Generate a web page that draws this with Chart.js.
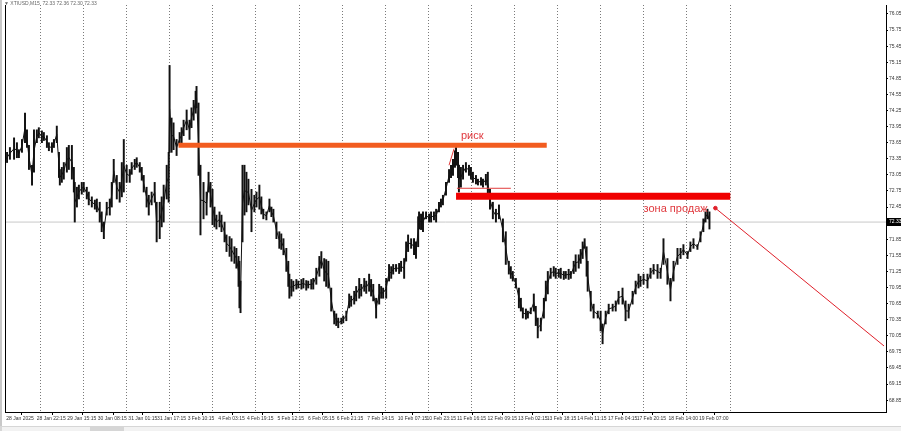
<!DOCTYPE html>
<html>
<head>
<meta charset="utf-8">
<script src="https://cdn.jsdelivr.net/npm/chart.js@4.4.1/dist/chart.umd.min.js"></script>
<style>
  html, body { margin: 0; padding: 0; background: #fff; }
  #wrap { width: 901px; height: 431px; position: relative; }
</style>
</head>
<body>
<div id="wrap"><canvas id="priceChart"></canvas></div>
<script>
// trading hours counted from 28 Jan 00:00 (weekends skipped)
const hours = [
  4.6,5.7,7.3,9.6,11.2,12.3,14.0,15.7,16.8,17.9,
  19.6,20.7,22.3,23.4,25.1,26.2,27.9,29.0,30.7,31.8,
  33.4,34.6,35.1,36.2,37.3,39.0,40.1,41.8,42.9,43.4,
  44.6,45.7,47.3,48.4,50.1,51.2,52.9,54.6,55.7,57.3,
  58.4,59.6,61.2,62.9,64.0,65.1,66.8,68.4,69.6,70.7,
  72.3,74.0,75.1,76.8,77.9,79.6,80.7,81.8,83.4,84.6,
  86.2,87.9,89.0,90.7,91.8,92.9,94.6,95.7,96.2,97.3,
  98.4,100.1,101.8,102.9,104.0,105.7,107.3,108.4,109.6,110.7,
  111.2,112.3,113.4,115.1,116.8,117.9,119.0,120.1,121.2,122.3,
  124.0,125.1,126.8,127.9,129.6,130.7,132.3,133.4,134.6,135.1,
  135.7,136.8,137.9,139.0,140.1,141.8,143.4,144.6,146.2,147.3,
  148.4,150.1,151.8,152.9,154.0,155.7,157.3,158.4,159.6,161.2,
  162.3,162.9,164.0,165.1,166.8,167.9,169.6,170.7,172.3,173.4,
  175.1,176.2,177.9,179.6,180.7,182.3,183.4,184.6,186.2,187.9,
  189.0,190.1,191.8,192.9,194.6,196.2,197.3,199.0,200.1,201.8,
  202.9,204.6,205.7,207.3,208.4,209.6,211.2,212.9,214.0,215.1,
  216.8,218.4,219.6,220.7,222.3,224.0,225.1,226.8,227.9,229.0,
  230.7,232.3,233.4,234.6,235.1,236.2,237.3,239.0,240.7,241.8,
  243.4,244.6,246.2,247.3,248.4,250.1,251.8,252.9,254.0,255.1,
  255.7,256.8,257.3,258.4,259.6,261.2,262.9,264.0,265.1,266.8,
  267.9,269.6,270.7,272.3,273.4,274.6,276.2,277.9,279.6,281.8,
  283.4,285.1,286.2,287.3,289.0,290.7,291.8,292.9,294.6,295.7,
  297.3,299.0,300.1,301.2,302.9,304.6,305.7,306.8,308.4,310.1,
  311.2,312.9,314.0,315.7,316.8,318.4,319.6,321.2,322.3,324.0,
  325.1,326.2,327.3,328.4,329.0,330.7,332.3,334.6,336.2,337.3,
  339.0,340.7,342.9,344.6,346.2,348.4,350.1,351.8,354.0,355.7,
  357.3,358.4,360.1,362.3,364.0,365.7,367.9,369.6,371.2,373.4,
  375.1,376.8,379.0,380.7,382.3,384.6,386.2,387.9,390.1,391.8,
  393.4,394.6,395.7,396.8
];

const highs = [
  73.43,73.47,73.56,73.74,73.65,73.52,73.71,74.20,73.89,73.60,
  73.23,73.89,73.89,73.93,73.87,73.84,73.78,73.65,73.65,73.71,
  73.96,73.47,73.15,73.19,73.28,73.56,73.60,73.60,73.19,72.91,
  72.82,72.86,72.91,72.91,72.82,72.73,72.64,72.58,72.60,72.54,
  72.36,72.17,72.54,72.60,72.91,73.34,73.04,72.91,73.28,73.71,
  73.23,73.15,73.28,73.34,73.37,73.28,73.19,73.04,72.82,72.67,
  72.73,72.91,72.54,72.54,72.64,72.86,73.23,73.47,75.09,74.11,
  74.02,73.71,73.84,73.93,74.07,74.26,74.07,74.30,74.44,74.61,
  74.70,74.39,73.23,72.91,72.73,73.10,72.91,72.78,72.45,72.30,
  72.36,72.30,72.17,71.93,71.90,71.86,71.71,71.68,71.53,71.44,
  71.07,73.23,73.23,73.10,72.97,72.78,72.67,72.73,72.86,72.64,
  72.41,72.36,72.60,72.45,72.41,72.17,71.99,71.95,71.86,71.68,
  71.44,71.20,71.10,71.07,71.10,71.07,71.10,71.12,71.08,71.07,
  71.10,71.12,71.31,71.53,71.62,71.49,71.47,71.44,70.94,70.51,
  70.46,70.38,70.38,70.42,70.51,70.83,70.79,70.88,70.97,71.12,
  71.01,71.12,71.07,71.20,71.10,71.01,70.75,71.01,70.97,70.94,
  71.12,71.38,71.34,71.38,71.38,71.40,71.44,71.49,71.80,71.93,
  71.86,71.86,71.80,72.27,72.36,72.32,72.36,72.36,72.32,72.36,
  72.36,72.41,72.54,72.60,72.67,72.91,73.15,73.23,73.34,73.50,
  73.56,73.47,73.23,73.19,73.23,73.28,73.23,73.19,73.10,73.04,
  72.97,73.00,72.97,73.06,73.10,72.78,72.54,72.41,72.49,72.23,
  71.99,71.44,71.34,71.25,71.12,70.94,70.75,70.57,70.55,70.51,
  70.57,70.83,70.60,70.38,70.38,70.75,71.07,71.25,71.31,71.34,
  71.31,71.29,71.31,71.25,71.25,71.29,71.25,71.44,71.56,71.56,
  71.66,71.80,71.86,71.71,71.44,70.88,70.64,70.51,70.51,70.27,
  70.51,70.64,70.64,70.70,70.88,70.94,70.70,70.64,70.88,71.07,
  71.20,71.16,71.20,71.20,71.31,71.38,71.38,71.31,71.86,71.49,
  71.12,71.44,71.68,71.68,71.75,71.62,71.80,71.86,71.75,71.99,
  72.23,72.36,72.41,72.36
];

const lows = [
  73.23,73.28,73.34,73.34,73.37,73.37,73.47,73.65,73.56,73.15,
  72.86,73.10,73.65,73.74,73.65,73.69,73.56,73.50,73.47,73.56,
  73.65,73.00,72.86,72.91,72.97,73.10,73.15,72.97,72.73,72.17,
  72.45,72.60,72.69,72.73,72.60,72.49,72.45,72.41,72.36,72.17,
  71.99,71.86,72.30,72.30,72.45,72.91,72.60,72.54,72.64,72.73,
  72.91,72.91,73.06,73.15,73.19,73.10,72.95,72.73,72.45,72.30,
  72.49,72.54,71.80,71.86,72.08,72.17,72.60,72.54,73.47,73.47,
  73.52,73.41,73.60,73.65,73.78,73.89,73.71,73.93,74.07,74.20,
  74.30,73.04,71.93,72.23,72.30,72.73,72.45,72.12,72.08,72.04,
  72.08,71.99,71.80,71.62,71.53,71.44,71.40,71.31,70.97,70.57,
  70.48,71.80,72.30,72.36,72.49,71.99,72.36,72.45,72.41,72.32,
  72.23,72.21,72.36,72.27,72.17,71.86,71.68,71.66,71.56,71.25,
  70.97,70.75,70.79,70.88,70.92,70.94,70.92,70.94,70.90,70.94,
  70.92,70.92,71.01,71.16,71.31,71.07,70.97,70.94,70.51,70.27,
  70.24,70.20,70.27,70.29,70.33,70.57,70.60,70.64,70.70,70.75,
  70.79,70.88,70.84,70.88,70.79,70.70,70.38,70.64,70.75,70.75,
  70.75,71.07,71.12,71.20,71.25,71.21,71.25,71.12,71.44,71.62,
  71.68,71.56,71.49,71.71,72.04,72.03,71.99,72.23,72.17,72.17,
  72.21,72.17,72.36,72.45,72.49,72.67,72.91,73.00,73.04,73.19,
  73.23,73.00,72.73,72.82,72.97,73.10,73.04,72.97,72.91,72.88,
  72.86,72.86,72.82,72.86,72.67,72.41,72.23,72.17,72.23,71.80,
  71.38,71.20,71.12,71.07,70.94,70.57,70.51,70.38,70.36,70.38,
  70.46,70.51,70.24,70.01,70.14,70.38,70.70,70.83,71.12,71.16,
  71.12,71.14,71.12,71.10,71.12,71.10,71.12,71.21,71.25,71.31,
  71.40,71.49,71.68,71.16,70.88,70.51,70.38,70.38,70.14,69.90,
  70.27,70.46,70.51,70.51,70.64,70.64,70.33,70.38,70.64,70.83,
  70.94,70.97,71.01,70.94,71.12,71.20,71.12,71.12,71.38,71.01,
  70.70,71.07,71.38,71.49,71.56,71.49,71.62,71.68,71.66,71.80,
  71.99,72.17,72.23,72.04
];

const timeLabels = ['28 Jan 2025','28 Jan 22:15','29 Jan 15:15','30 Jan 08:15','31 Jan 01:15',
  '31 Jan 17:15','3 Feb 10:15','4 Feb 03:15','4 Feb 19:15','5 Feb 12:15','6 Feb 05:15',
  '6 Feb 21:15','7 Feb 14:15','10 Feb 07:15','10 Feb 23:15','11 Feb 16:15','12 Feb 09:15',
  '13 Feb 02:15','13 Feb 18:15','14 Feb 11:15','17 Feb 04:15','17 Feb 20:15','18 Feb 14:00',
  '19 Feb 07:00'];
const timeLabelHours = [5.25,22.25,39.25,56.25,73.25,89.25,106.25,123.25,139.25,156.25,173.25,
  189.25,206.25,223.25,239.25,256.25,273.25,290.25,306.25,323.25,340.25,356.25,374,391];
const daySeparators = [24,48,72,96,120,144,168,192,216,240,264,288,312,336,360,384,408];

const priceTicks = [76.05,75.75,75.45,75.15,74.85,74.55,74.25,73.95,73.65,73.35,73.05,72.75,
  72.45,72.15,71.85,71.55,71.25,70.95,70.65,70.35,70.05,69.75,69.45,69.15,68.85];

const lastPrice = 72.17;
const lastPriceLabel = '72.33';
const riskLevel = { from: 101.2, to: 306.2, price: 73.60 };
const sellZone = { from: 255.7, to: 408.4, price: 72.65 };
const minorLevel = { from: 256.2, to: 286.2, price: 72.80 };
const riskTrend = [[251.8, 73.23], [254.6, 73.54]];
const targetArrow = [[400.1, 72.43], [494.0, 69.86]];
const notes = [
  { text: 'риск', x: 258.4, y: 73.78 },
  { text: 'зона продаж', x: 360.1, y: 72.41 }
];

const segment = (pts) => pts.map(p => ({ x: p[0], y: p[1] }));
const tinyFont = '"Liberation Sans Narrow", "Liberation Sans", sans-serif';

const framePlugin = {
  id: 'frame',
  beforeDraw(chart) {
    const c = chart.ctx;
    const a = chart.chartArea;
    const x = chart.scales.x;
    c.save();
    c.fillStyle = '#fff';
    c.fillRect(0, 0, chart.width, chart.height);
    c.fillStyle = '#c8c8c8';
    c.fillRect(0, 0, 2, 426);
    c.fillStyle = '#d6d6d6';
    c.fillRect(0, 426, chart.width, 5);
    c.fillStyle = '#f2f2f2';
    c.fillRect(2, 427, 88, 4);
    c.fillRect(124, 427, 777, 4);
    // day separators
    c.strokeStyle = '#7a7a7a';
    c.lineWidth = 1;
    c.setLineDash([1, 2]);
    daySeparators.forEach(h => {
      const px = Math.round(x.getPixelForValue(h)) + 0.5;
      c.beginPath();
      c.moveTo(px, a.top);
      c.lineTo(px, a.bottom);
      c.stroke();
    });
    c.restore();
  },
  afterDraw(chart) {
    const c = chart.ctx;
    const a = chart.chartArea;
    const y = chart.scales.y;
    c.save();
    c.strokeStyle = '#000';
    c.lineWidth = 1;
    c.beginPath();
    c.moveTo(a.left + 0.5, a.top);
    c.lineTo(a.left + 0.5, a.bottom);
    c.stroke();
    // notes
    c.font = '11px "Liberation Sans", Arial, sans-serif';
    c.fillStyle = '#e0393e';
    c.textBaseline = 'middle';
    notes.forEach(n => {
      c.fillText(n.text, chart.scales.x.getPixelForValue(n.x), y.getPixelForValue(n.y));
    });
    // current price box
    const py = Math.round(y.getPixelForValue(lastPrice));
    c.fillStyle = '#000';
    c.fillRect(a.right + 1, py - 4, chart.width - a.right - 1, 8);
    c.fillStyle = '#fff';
    c.font = '5px ' + tinyFont;
    c.fillText(lastPriceLabel, a.right + 3, py);
    // header
    c.fillStyle = '#666';
    c.fillText('\u25BC XTIUSD,M15  72.33 72.36 72.30 72.33', 4, 4);
    c.restore();
  }
};

const ctx = document.getElementById('priceChart').getContext('2d');
const priceChart = new Chart(ctx, {
  type: 'bar',
  data: {
    datasets: [
      {
        label: 'last',
        type: 'line',
        data: segment([[4.56, lastPrice], [495.1, lastPrice]]),
        borderColor: '#c8c8c8',
        borderWidth: 1,
        pointRadius: 0,
        order: 5
      },
      {
        label: 'bars',
        data: hours.map((h, i) => ({ x: h, y: [lows[i], highs[i]] })),
        backgroundColor: '#111',
        borderWidth: 0,
        barThickness: 1.3,
        order: 4
      },
      {
        // joins neighbouring bars the way the dense M15 bars do
        label: 'path',
        type: 'line',
        data: hours.map((h, i) => ({ x: h, y: (lows[i] + highs[i]) / 2 })),
        borderColor: '#111',
        borderWidth: 1,
        pointRadius: 0,
        order: 3
      },
      {
        label: 'risk',
        type: 'line',
        data: segment([[riskLevel.from, riskLevel.price], [riskLevel.to, riskLevel.price]]),
        borderColor: '#f25c1f',
        borderWidth: 5,
        pointRadius: 0,
        order: 1
      },
      {
        label: 'sell zone',
        type: 'line',
        data: segment([[sellZone.from, sellZone.price], [sellZone.to, sellZone.price]]),
        borderColor: '#f00000',
        borderWidth: 7,
        pointRadius: 0,
        order: 1
      },
      {
        label: 'minor',
        type: 'line',
        data: segment([[minorLevel.from, minorLevel.price], [minorLevel.to, minorLevel.price]]),
        borderColor: '#e23c3c',
        borderWidth: 1,
        pointRadius: 0,
        order: 1
      },
      {
        label: 'trend',
        type: 'line',
        data: segment(riskTrend),
        borderColor: '#e23c3c',
        borderWidth: 1,
        pointRadius: 0,
        order: 1
      },
      {
        label: 'arrow',
        type: 'line',
        data: segment(targetArrow),
        borderColor: '#e0202a',
        backgroundColor: '#e0202a',
        borderWidth: 1,
        pointRadius: [1.8, 0],
        order: 1
      }
    ]
  },
  options: {
    responsive: true,
    maintainAspectRatio: false,
    animation: false,
    layout: { padding: { left: 3, top: 1, right: 0, bottom: 0 } },
    plugins: { legend: { display: false }, tooltip: { enabled: false } },
    scales: {
      x: {
        type: 'linear',
        position: 'bottom',
        min: 4.56,
        max: 495.1,
        offset: false,
        afterBuildTicks: s => { s.ticks = timeLabelHours.map(v => ({ value: v })); },
        afterFit: s => { s.height = 19; },
        ticks: {
          autoSkip: false,
          maxRotation: 0,
          align: 'start',
          padding: 1,
          color: '#333',
          font: { size: 5, family: tinyFont },
          callback: (v, i) => timeLabels[i]
        },
        grid: { drawOnChartArea: false, tickLength: 3, color: '#000' },
        border: { color: '#000' }
      },
      y: {
        position: 'right',
        min: 68.629,
        max: 76.217,
        afterBuildTicks: s => { s.ticks = priceTicks.map(v => ({ value: v })); },
        afterFit: s => { s.width = 15; },
        ticks: {
          autoSkip: false,
          padding: 1,
          color: '#333',
          font: { size: 5, family: tinyFont },
          callback: v => v.toFixed(2)
        },
        grid: { drawOnChartArea: false, tickLength: 2, color: '#000' },
        border: { color: '#000' }
      }
    }
  },
  plugins: [framePlugin]
});
</script>
</body>
</html>
